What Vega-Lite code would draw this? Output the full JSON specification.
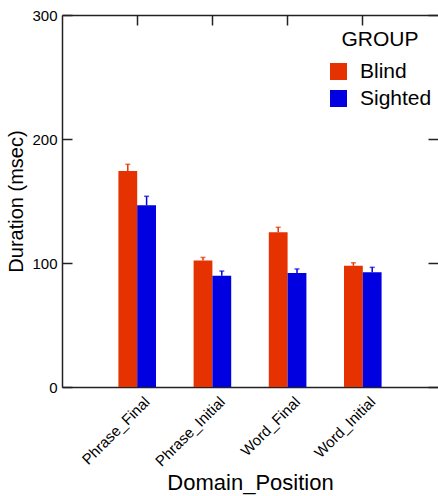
{
  "$schema": "https://vega.github.io/schema/vega-lite/v6.json",
  "autosize": "none",
  "width": 376,
  "height": 372,
  "padding": {"left": 62, "top": 15, "right": 0, "bottom": 109},
  "background": "white",
  "config": {
    "font": "Liberation Sans",
    "view": {"stroke": null},
    "axis": {"grid": false, "domainColor": "#222", "tickColor": "#222", "domainWidth": 1.5, "tickWidth": 1.5, "labelColor": "#000", "titleColor": "#000", "titleFontWeight": "normal", "labelFont": "Liberation Sans", "titleFont": "Liberation Sans"}
  },
  "data": {
    "values": [
      {"Domain_Position": "Phrase_Final", "GROUP": "Blind", "Duration": 174.2, "Upper": 179.6},
      {"Domain_Position": "Phrase_Final", "GROUP": "Sighted", "Duration": 146.5, "Upper": 153.8},
      {"Domain_Position": "Phrase_Initial", "GROUP": "Blind", "Duration": 102.1, "Upper": 104.5},
      {"Domain_Position": "Phrase_Initial", "GROUP": "Sighted", "Duration": 89.8, "Upper": 93.5},
      {"Domain_Position": "Word_Final", "GROUP": "Blind", "Duration": 124.7, "Upper": 128.8},
      {"Domain_Position": "Word_Final", "GROUP": "Sighted", "Duration": 91.9, "Upper": 95.2},
      {"Domain_Position": "Word_Initial", "GROUP": "Blind", "Duration": 97.8, "Upper": 100.2},
      {"Domain_Position": "Word_Initial", "GROUP": "Sighted", "Duration": 92.5, "Upper": 96.5}
    ]
  },
  "resolve": {"axis": {"x": "independent", "y": "independent"}},
  "layer": [
    {
      "mark": {"type": "bar", "stroke": null},
      "encoding": {
        "x": {"field": "Domain_Position", "type": "nominal", "sort": null,
          "scale": {"paddingInner": 0.5, "paddingOuter": 0.75},
          "axis": {"orient": "bottom", "labelAngle": -45, "labelFontSize": 15, "ticks": false, "labelPadding": 7, "labelOffset": 5, "title": "Domain_Position", "titleFontSize": 22, "titlePadding": 4}},
        "xOffset": {"field": "GROUP", "type": "nominal", "scale": {"paddingInner": 0, "paddingOuter": 0}},
        "y": {"field": "Duration", "type": "quantitative",
          "scale": {"domain": [0, 300], "nice": false, "zero": true},
          "axis": {"orient": "left", "values": [0, 100, 200, 300], "tickSize": -10, "labelPadding": 15, "labelFontSize": 15, "title": "Duration (msec)", "titleFontSize": 20, "titlePadding": 5}},
        "color": {"field": "GROUP", "type": "nominal",
          "scale": {"domain": ["Blind", "Sighted"], "range": ["#e63200", "#0000e0"]},
          "legend": {"orient": "none", "legendX": 266, "legendY": 14, "title": "GROUP", "titleFontSize": 21, "titleFontWeight": "normal", "titleAnchor": "middle", "titleColor": "#000", "labelFontSize": 21, "labelColor": "#000", "symbolType": "square", "symbolSize": 289, "symbolStrokeWidth": 0, "symbolOpacity": 1, "labelOffset": 11, "rowPadding": 5, "titlePadding": 11}}
      }
    },
    {
      "mark": {"type": "rule", "strokeWidth": 1.5},
      "encoding": {
        "x": {"field": "Domain_Position", "type": "nominal", "sort": null,
          "axis": {"orient": "top", "labels": false, "title": null, "tickSize": -10}},
        "xOffset": {"field": "GROUP", "type": "nominal"},
        "y": {"field": "Duration", "type": "quantitative",
          "axis": {"orient": "right", "values": [0, 100, 200, 300], "labels": false, "title": null, "tickSize": -10, "domain": false}},
        "y2": {"field": "Upper"},
        "color": {"field": "GROUP", "type": "nominal", "legend": null}
      }
    },
    {
      "mark": {"type": "tick", "size": 5, "thickness": 1.5},
      "encoding": {
        "x": {"field": "Domain_Position", "type": "nominal", "sort": null, "axis": null},
        "xOffset": {"field": "GROUP", "type": "nominal"},
        "y": {"field": "Upper", "type": "quantitative", "axis": null},
        "color": {"field": "GROUP", "type": "nominal", "legend": null}
      }
    }
  ]
}
